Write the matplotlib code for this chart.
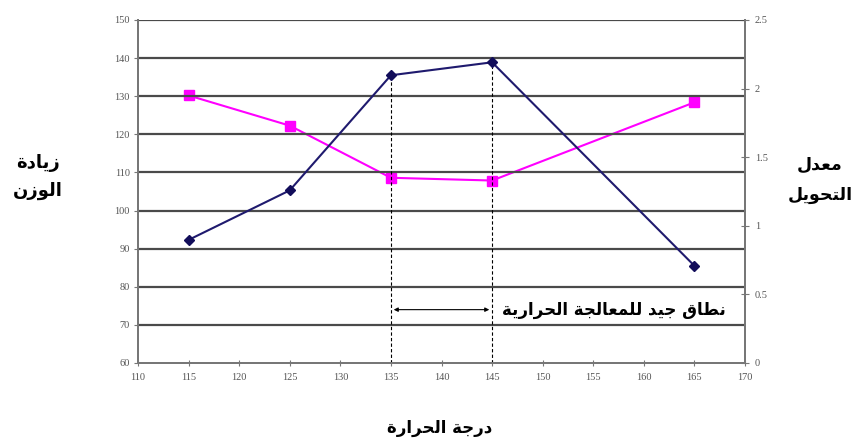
import matplotlib
matplotlib.use("Agg")
from matplotlib import pyplot as plt

# data
temps = [115, 125, 135, 145, 165]
weight_gain = [92.3, 105.3, 135.5, 138.9, 85.5]       # left axis
conversion = [1.95, 1.73, 1.35, 1.33, 1.90]           # right axis
band = [135, 145]
band_y = 74

# --- minimal arabic shaping (matplotlib has no text shaping / bidi) ---
# letter: (isolated, final, initial, medial); initial None -> joins only to the right
FORMS = {
    "ا": ("\uFE8D", "\uFE8E", None, None),
    "ة": ("\uFE93", "\uFE94", None, None),
    "ت": ("\uFE95", "\uFE96", "\uFE97", "\uFE98"),
    "ج": ("\uFE9D", "\uFE9E", "\uFE9F", "\uFEA0"),
    "ح": ("\uFEA1", "\uFEA2", "\uFEA3", "\uFEA4"),
    "د": ("\uFEA9", "\uFEAA", None, None),
    "ر": ("\uFEAD", "\uFEAE", None, None),
    "ز": ("\uFEAF", "\uFEB0", None, None),
    "ط": ("\uFEC1", "\uFEC2", "\uFEC3", "\uFEC4"),
    "ع": ("\uFEC9", "\uFECA", "\uFECB", "\uFECC"),
    "ق": ("\uFED5", "\uFED6", "\uFED7", "\uFED8"),
    "ل": ("\uFEDD", "\uFEDE", "\uFEDF", "\uFEE0"),
    "م": ("\uFEE1", "\uFEE2", "\uFEE3", "\uFEE4"),
    "ن": ("\uFEE5", "\uFEE6", "\uFEE7", "\uFEE8"),
    "و": ("\uFEED", "\uFEEE", None, None),
    "ي": ("\uFEF1", "\uFEF2", "\uFEF3", "\uFEF4"),
}


def shape(line):
    out = []
    for i, ch in enumerate(line):
        if ch not in FORMS:
            out.append(ch)
            continue
        prev = line[i - 1] if i > 0 else ""
        nxt = line[i + 1] if i + 1 < len(line) else ""
        jp = prev in FORMS and FORMS[prev][2] is not None
        jn = FORMS[ch][2] is not None and nxt in FORMS
        iso, fin, ini, med = FORMS[ch]
        if jp and jn:
            out.append(med)
        elif jp:
            out.append(fin)
        elif jn:
            out.append(ini)
        else:
            out.append(iso)
    return "".join(reversed(out))


def ar(text):
    return "\n".join(shape(l) for l in text.split("\n"))


left_label = "زيادة\nالوزن"
right_label = "معدل\nالتحويل"
x_label = "درجة الحرارة"
band_label = "نطاق جيد للمعالجة الحرارية"

fig = plt.figure(figsize=(8.67, 4.41), dpi=100)
ax = fig.add_axes([138 / 867, 1 - 363 / 441, 607 / 867, 343 / 441])
ax2 = ax.twinx()

ax.set_xlim(110, 170)
ax.set_ylim(60, 150)
ax2.set_ylim(0, 2.5)
ax.set_xticks(range(110, 171, 5))
ax.set_yticks(range(60, 151, 10))
ax2.set_yticks([0, 0.5, 1, 1.5, 2, 2.5])
ax2.set_yticklabels(["0", "0.5", "1", "1.5", "2", "2.5"])

for y in range(70, 151, 10):
    ax.axhline(y, color="#4a4a4a", lw=1.6, zorder=1)

ax.spines["top"].set_visible(False)
ax2.spines["top"].set_visible(False)
for s in ["left", "bottom", "right"]:
    ax.spines[s].set_color("#777777")
    ax2.spines[s].set_color("#777777")
    ax.spines[s].set_linewidth(1.4)
    ax2.spines[s].set_linewidth(1.4)

for lab in ax.get_xticklabels() + ax.get_yticklabels() + ax2.get_yticklabels():
    lab.set_fontfamily("Liberation Serif")
    lab.set_fontsize(7.5)
    lab.set_color("#555555")
ax.tick_params(axis="y", direction="out", length=3, color="#777777", pad=3)
ax.tick_params(axis="x", direction="inout", length=4, color="#777777", pad=5)
ax2.tick_params(axis="y", direction="inout", length=6, color="#777777", pad=4)

# dashed verticals marking the band
for t, w in zip(temps, weight_gain):
    if t in band:
        ax.plot([t, t], [60, w], color="black", ls=(0, (3, 2)), lw=0.8, zorder=2)

ax.annotate("", xy=(band[0], band_y), xytext=(band[1], band_y),
            arrowprops=dict(arrowstyle="<|-|>", color="black", lw=0.8,
                            mutation_scale=6), zorder=3)

ax2.plot(temps, conversion, color="#ff00ff", lw=1.5, marker="s", ms=7,
         markerfacecolor="#ff00ff", markeredgecolor="#ff00ff", zorder=4)
ax.plot(temps, weight_gain, color="#1f1a6e", lw=1.5, marker="D", ms=5,
        markerfacecolor="#120d5a", markeredgecolor="#120d5a", zorder=4)
ax.set_zorder(ax2.get_zorder() + 1)
ax.patch.set_visible(False)

ax.text(146, band_y, ar(band_label), fontsize=12, fontweight="bold",
        family="DejaVu Sans", ha="left", va="center", zorder=5,
        bbox=dict(facecolor="white", edgecolor="none", pad=2))

fig.text(38 / 867, 1 - 177 / 441, ar(left_label), fontsize=13, fontweight="bold",
         family="DejaVu Sans", ha="center", va="center", linespacing=1.7)
fig.text(820 / 867, 1 - 180 / 441, ar(right_label), fontsize=12.5, fontweight="bold",
         family="DejaVu Sans", ha="center", va="center", linespacing=1.9)
fig.text(440 / 867, 1 - 428 / 441, ar(x_label), fontsize=12, fontweight="bold",
         family="DejaVu Sans", ha="center", va="center")

fig.savefig("out.png", dpi=100)
plt.close("all")
